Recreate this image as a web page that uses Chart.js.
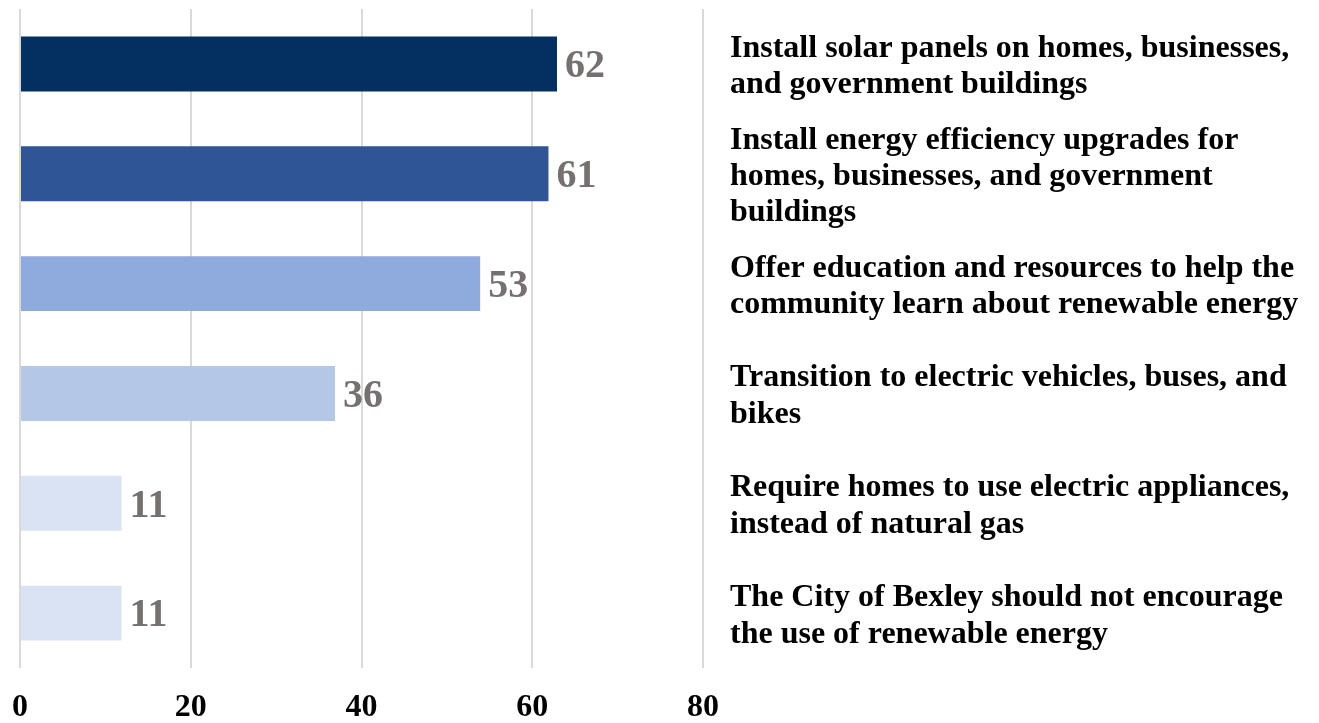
<!DOCTYPE html>
<html>
<head>
<meta charset="utf-8">
<script src="https://cdn.jsdelivr.net/npm/chart.js@4.4.1/dist/chart.umd.min.js"></script>
<style>
    html, body { margin: 0; padding: 0; background: #fff; }
    #wrap { width: 1319px; height: 723px; }
</style>
</head>
<body>
<div id="wrap"><canvas id="chart" width="1319" height="723"></canvas></div>
<script>
const categories = [
    ["Install solar panels on homes, businesses,", "and government buildings"],
    ["Install energy efficiency upgrades for", "homes, businesses, and government", "buildings"],
    ["Offer education and resources to help the", "community learn about renewable energy"],
    ["Transition to electric vehicles, buses, and", "bikes"],
    ["Require homes to use electric appliances,", "instead of natural gas"],
    ["The City of Bexley should not encourage", "the use of renewable energy"],
];
const values = [62.9, 61.9, 53.9, 36.9, 11.9, 11.9];
const valueText = ["62", "61", "53", "36", "11", "11"];
const barColors = ["#03305f", "#2f5597", "#8faadc", "#b4c7e7", "#dae3f3", "#dae3f3"];
const xTicks = [0, 20, 40, 60, 80];

const SERIF = "'Liberation Serif', 'Times New Roman', serif";

const valueLabels = {
    id: "valueLabels",
    afterDatasetsDraw(chart) {
        const ctx = chart.ctx;
        const meta = chart.getDatasetMeta(0);
        ctx.save();
        ctx.font = `bold 40px ${SERIF}`;
        ctx.fillStyle = "#767171";
        ctx.textAlign = "left";
        ctx.textBaseline = "middle";
        meta.data.forEach((bar, i) => {
            ctx.fillText(valueText[i], bar.x + 8, bar.y + 3);
        });
        ctx.restore();
    }
};

function noPadding(scale) {
    scale.paddingTop = 0;
    scale.paddingBottom = 0;
    scale.paddingLeft = 0;
    scale.paddingRight = 0;
}

new Chart(document.getElementById("chart"), {
    type: "bar",
    data: {
        labels: categories,
        datasets: [{
            data: values,
            backgroundColor: barColors,
            borderWidth: 0,
            categoryPercentage: 1,
            barPercentage: 0.5,
        }]
    },
    options: {
        indexAxis: "y",
        responsive: false,
        animation: false,
        layout: { padding: { left: 20, top: 9, right: 0, bottom: 0 } },
        plugins: {
            legend: { display: false },
            tooltip: { enabled: false },
        },
        scales: {
            x: {
                min: 0,
                max: 80,
                afterBuildTicks: (scale) => { scale.ticks = xTicks.map(v => ({ value: v })); },
                afterFit: (scale) => {
                    noPadding(scale);
                    scale.height = 55;
                },
                grid: { color: "#d9d9d9", lineWidth: 2, drawTicks: false },
                border: { display: false },
                ticks: {
                    padding: 21,
                    color: "#000",
                    font: { family: SERIF, size: 32, weight: "bold" },
                },
            },
            y: {
                position: "right",
                grid: { display: false },
                border: { display: false },
                afterFit: (scale) => {
                    noPadding(scale);
                    scale.width = 616;
                },
                ticks: {
                    autoSkip: false,
                    padding: 19,
                    labelOffset: 3,
                    crossAlign: "near",
                    color: "#000",
                    font: { family: SERIF, size: 32, weight: "bold", lineHeight: 1.14 },
                },
            },
        },
    },
    plugins: [valueLabels],
});
</script>
</body>
</html>
